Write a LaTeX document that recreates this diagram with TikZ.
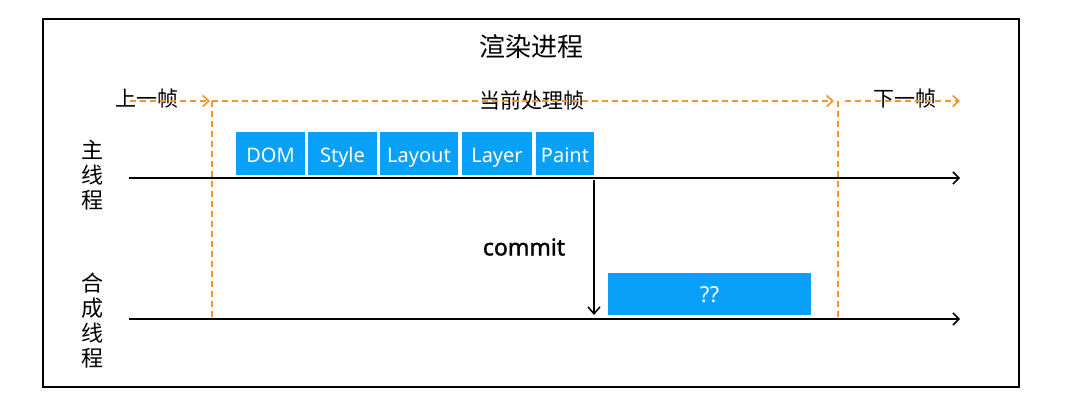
\documentclass[tikz,border=0pt]{standalone}
\usepackage{fontspec}
\setmainfont{Noto Sans}
\newfontfamily\cjk{Noto Sans CJK SC}
\usetikzlibrary{arrows.meta}
\definecolor{boxblue}{RGB}{8,160,248}
\definecolor{dashorange}{RGB}{245,150,40}
\tikzset{
  frameline/.style={line width=2.6pt, draw=black},
  orangedash/.style={draw=dashorange, line width=1.7pt, dash pattern=on 6pt off 4pt},
  orangearrow/.style={orangedash, -{Straight Barb[length=6pt,width=11pt,line width=1.7pt]}},
  thread/.style={draw=black, line width=1.5pt, -{Straight Barb[length=6pt,width=12pt,line width=1.5pt]}},
  stagebox/.style={fill=boxblue, draw=none, text=white, inner sep=0pt, text height=17pt, text depth=0pt, font=\fontsize{20}{22}\selectfont},
  cjklabel/.style={font=\cjk\fontsize{21}{24}\selectfont, inner sep=0pt},
  vlabel/.style={font=\cjk\fontsize{22}{25}\selectfont, align=center, inner sep=0pt},
}
\begin{document}
\begin{tikzpicture}[x=1pt,y=-1pt]
\useasboundingbox (0,0) rectangle (1084,405);
% frame
\draw[frameline] (43,19) rectangle (1019,387);
% title
\node[font=\cjk\fontsize{26}{29}\selectfont, inner sep=0pt] (title) at (531,47) {渲染进程};
% frame labels
\node[cjklabel] (prev) at (147,99) {上一帧};
\node[cjklabel] (curr) at (532,100) {当前处理帧};
\node[cjklabel] (next) at (905,99) {下一帧};
% dashed frame markers
\coordinate (p0) at (130,101);
\coordinate (a1) at (212,101);
\coordinate (a1b) at (212,319);
\coordinate (a2) at (838,101);
\coordinate (a2b) at (838,319);
\coordinate (a2s) at (845,101);
\coordinate (a3) at (960,101);
\coordinate (a1t) at (210,101);
\coordinate (a2t) at (834,101);
\draw[orangearrow] (p0) -- (a1t);
\draw[orangedash] (a1) -- (a1b);
\draw[orangearrow] (a1) -- (a2t);
\draw[orangedash] (a2) -- (a2b);
\draw[orangearrow] (a2s) -- (a3);
% thread labels
\node[vlabel] (main) at (92,175) {主\\线\\程};
\node[vlabel] (comp) at (92,321) {合\\成\\线\\程};
% thread lines
\coordinate (m0) at (129,178);
\coordinate (m1) at (960,178);
\coordinate (c0) at (129,319);
\coordinate (c1) at (960,319);
\draw[thread] (m0) -- (m1);
\draw[thread] (c0) -- (c1);
% stages
\node[stagebox, minimum width=69pt, minimum height=43pt] (dom) at (270.5,153.5) {DOM};
\node[stagebox, minimum width=69pt, minimum height=43pt] (style) at (342.5,153.5) {Style};
\node[stagebox, minimum width=78pt, minimum height=43pt] (layout) at (419,153.5) {Layout};
\node[stagebox, minimum width=70pt, minimum height=43pt] (layer) at (497,153.5) {Layer};
\node[stagebox, minimum width=58pt, minimum height=43pt] (paint) at (565,153.5) {Paint};
\node[stagebox, minimum width=203pt, minimum height=42pt, font=\fontsize{22}{24}\selectfont] (qq) at (709.5,294) {??};
% commit
\coordinate (cm0) at (594,180);
\coordinate (cm1) at (594,315);
\draw[draw=black, line width=1.5pt, -{Straight Barb[length=7pt,width=12pt,line width=1.5pt]}] (cm0) -- (cm1);
\node[font=\fontsize{23}{26}\selectfont\addfontfeatures{FakeBold=1.5}, inner sep=0pt] (commit) at (524,247) {commit};
\end{tikzpicture}
\end{document}
